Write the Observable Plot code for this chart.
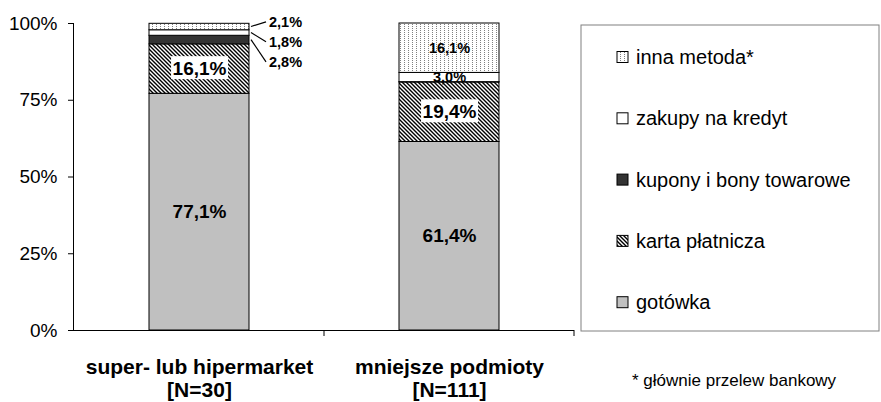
<!DOCTYPE html>
<html><head><meta charset="utf-8">
<script src="https://cdn.jsdelivr.net/npm/d3@7"></script>
<script src="https://cdn.jsdelivr.net/npm/@observablehq/plot@0.6"></script>
<style>
body{margin:0;background:#fff;}
svg{font-family:"Liberation Sans",Arial,sans-serif;}
</style>
</head><body><div id="chart"></div>
<script>
// ---- data ----
const categories = ["super- lub hipermarket", "mniejsze podmioty"];
const sampleSizes = ["[N=30]", "[N=111]"];
const methods = ["gotówka", "karta płatnicza", "kupony i bony towarowe", "zakupy na kredyt", "inna metoda*"];
const hiperValues = [77.1, 16.1, 2.8, 1.8, 2.1];
const mniejszeValues = [61.4, 19.4, 0.1, 3.0, 16.1];
const yTicks = [0, 25, 50, 75, 100];
const footnote = "* głównie przelew bankowy";

// ---- styles ----
const fills = {
  "gotówka": "#c0c0c0",
  "karta płatnicza": "url(#hatch)",
  "kupony i bony towarowe": "#333333",
  "zakupy na kredyt": "#ffffff",
  "inna metoda*": "url(#dots)"
};
const FONT = "Liberation Sans, Arial, sans-serif";

const seriesByCategory = [hiperValues, mniejszeValues];
const data = categories.flatMap((c, i) =>
  methods.map((m, j) => ({category: c, method: m, value: seriesByCategory[i][j]})));
const fmt = v => v.toFixed(1).replace(".", ",") + "%";

// which segments get which label
const bigPlain = d => d.method === "gotówka";
const bigBoxed = d => d.method === "karta płatnicza";
const smallInside = d => d.category === categories[1] && (d.method === "zakupy na kredyt" || d.method === "inna metoda*");
const calloutMethods = ["inna metoda*", "zakupy na kredyt", "kupony i bony towarowe"]; // top to bottom

function defsMark() {
  const defs = d3.create("svg:defs");
  const dots = defs.append("pattern").attr("id", "dots").attr("patternUnits", "userSpaceOnUse")
    .attr("width", 4).attr("height", 2);
  dots.append("rect").attr("width", 4).attr("height", 2).attr("fill", "#fff");
  dots.append("rect").attr("width", 1).attr("height", 1).attr("fill", "#808080");
  const hatch = defs.append("pattern").attr("id", "hatch").attr("patternUnits", "userSpaceOnUse")
    .attr("width", 4).attr("height", 4);
  hatch.append("rect").attr("width", 4).attr("height", 4).attr("fill", "#fff");
  hatch.append("path").attr("d", "M0,0L4,4M-1,3L1,5M3,-1L5,1")
    .attr("stroke", "#000").attr("stroke-width", 1.4);
  return defs.node();
}

function extras(index, scales, values, dims) {
  const x = scales.x, y = scales.y;
  const bw = x.bandwidth ? x.bandwidth() : 100;
  const step = x.step ? x.step() : 250;
  const bottom = dims.height - dims.marginBottom;
  const g = d3.create("svg:g").attr("font-family", FONT).attr("text-anchor", "start").attr("fill", "#000");
  // category boundary ticks on the x axis
  categories.forEach(c => {
    const xb = x(c) + bw + (step - bw) / 2;
    g.append("line").attr("x1", xb).attr("x2", xb).attr("y1", bottom).attr("y2", bottom + 6)
      .attr("stroke", "#000");
  });
  // callouts for the small segments of the first bar
  const c0 = categories[0];
  let cum = 0;
  const mids = {};
  methods.forEach((m, j) => { mids[m] = cum + hiperValues[j] / 2; cum += hiperValues[j]; });
  const topY = y(cum);
  const xr = x(c0) + bw;
  calloutMethods.forEach((m, k) => {
    const ly = topY - 1.5 + 20 * k;
    g.append("line").attr("x1", xr + 2).attr("y1", y(mids[m])).attr("x2", xr + 17).attr("y2", ly)
      .attr("stroke", "#000").attr("stroke-width", 1.2);
    g.append("text").attr("x", xr + 20).attr("y", ly).attr("dy", "0.35em")
      .attr("font-size", 14.5).attr("font-weight", "bold")
      .text(fmt(hiperValues[methods.indexOf(m)]));
  });
  // legend
  const lg = g.append("g");
  lg.append("rect").attr("x", 581).attr("y", 25).attr("width", 298).attr("height", 306)
    .attr("fill", "#fff").attr("stroke", "#808080").attr("stroke-width", 1);
  methods.slice().reverse().forEach((m, k) => {
    const cy = 57 + k * 61.3;
    lg.append("rect").attr("x", 617).attr("y", cy - 5.5).attr("width", 11).attr("height", 11)
      .attr("fill", fills[m]).attr("stroke", "#000").attr("stroke-width", 1);
    lg.append("text").attr("x", 636).attr("y", cy).attr("dy", "0.35em")
      .attr("font-size", 20).text(m);
  });
  // footnote
  g.append("text").attr("x", 632).attr("y", 386).attr("font-size", 17).text(footnote);
  return g.node();
}

const chart = Plot.plot({
  width: 881, height: 402,
  marginLeft: 73, marginRight: 307, marginTop: 23, marginBottom: 72,
  style: {fontFamily: FONT, fontSize: "19px", background: "white", color: "black", overflow: "visible"},
  x: {domain: categories, paddingInner: 0.6, paddingOuter: 0.3, axis: null},
  y: {domain: [0, 100], ticks: yTicks, tickFormat: d => d + "%", tickSize: 5, tickPadding: 11, line: true, label: null},
  color: {type: "identity"},
  marks: [
    defsMark,
    Plot.barY(data, {x: "category", y: "value", fill: d => fills[d.method], stroke: "#000", strokeWidth: 1}),
    Plot.ruleY([0], {stroke: "#000", strokeWidth: 1.2}),
    Plot.text(data, Plot.stackY({x: "category", y: "value", text: d => bigPlain(d) ? fmt(d.value) : null,
      fontSize: 19, fontWeight: "bold", fill: "#000"})),
    Plot.text(data, Plot.stackY({x: "category", y: "value", text: d => bigBoxed(d) ? fmt(d.value) : null,
      fontSize: 19, fontWeight: "bold", fill: "#000", className: "boxed"})),
    Plot.text(data, Plot.stackY({x: "category", y: "value", text: d => smallInside(d) ? fmt(d.value) : null,
      fontSize: 14.5, fontWeight: "bold", fill: "#000"})),
    Plot.text(categories, {x: d => d, frameAnchor: "bottom", lineAnchor: "bottom", dy: 43,
      text: d => d, fontSize: 21, fontWeight: "bold", fill: "#000"}),
    Plot.text(categories, {x: d => d, frameAnchor: "bottom", lineAnchor: "bottom", dy: 66,
      text: (d, i) => sampleSizes[i], fontSize: 21, fontWeight: "bold", fill: "#000"}),
    extras
  ]
});

document.getElementById("chart").append(chart);
d3.select(chart).selectAll("g.boxed text").each(function() {
  const b = this.getBBox();
  const r = document.createElementNS("http://www.w3.org/2000/svg", "rect");
  r.setAttribute("x", b.x - 1.5);
  r.setAttribute("y", b.y - 2);
  r.setAttribute("width", b.width + 3);
  r.setAttribute("height", b.height + 2);
  r.setAttribute("fill", "#fff");
  const t = this.getAttribute("transform");
  if (t) r.setAttribute("transform", t);
  this.parentNode.insertBefore(r, this);
});
</script>
</body></html>
